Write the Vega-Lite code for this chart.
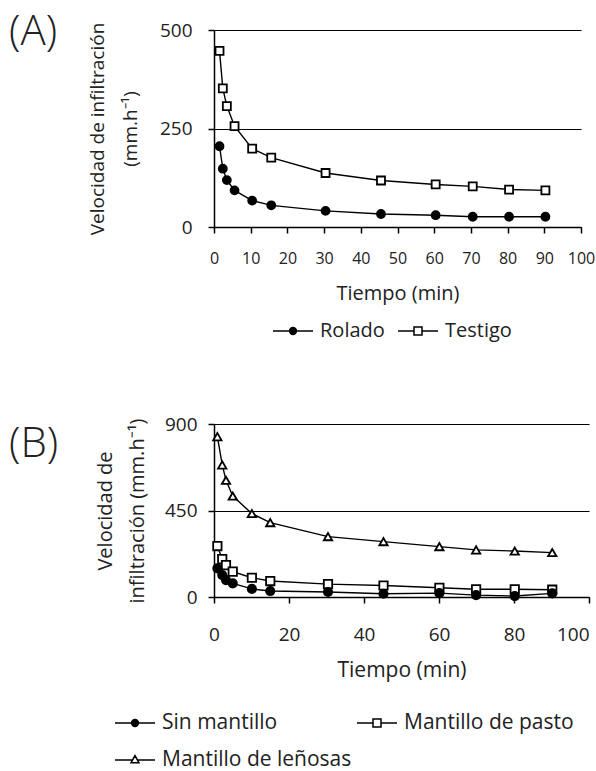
{
  "$schema": "https://vega.github.io/schema/vega-lite/v6.json",
  "padding": {"left": 9, "top": 11, "right": 0, "bottom": 0},
  "background": "white",
  "spacing": 74,
  "resolve": {"scale": {"shape": "independent", "fill": "independent", "stroke": "independent", "x": "independent", "y": "independent"},
              "legend": {"shape": "independent", "fill": "independent", "stroke": "independent"}},
  "config": {
    "font": "Open Sans",
    "view": {"stroke": null},
    "axis": {
      "domainColor": "black", "domainWidth": 1.5,
      "tickColor": "black", "tickWidth": 1.5, "tickSize": 6, "labelFlush": false,
      "gridColor": "black", "gridWidth": 1.2,
      "labelColor": "#222", "titleColor": "#222",
      "titleFontWeight": "normal", "labelFont": "Open Sans", "titleFont": "Open Sans"
    },
    "legend": {"labelColor": "#222", "labelFont": "Open Sans", "labelLimit": 400},
    "title": {"color": "#222", "font": "Open Sans"}
  },
  "vconcat": [
    {
      "width": 367,
      "height": 197,
      "title": {"text": "(A)", "anchor": "start", "frame": "group", "fontSize": 42, "fontWeight": 300, "baseline": "alphabetic", "dx": -205, "dy": 66, "offset": 0},
      "data": {"values": [
        {"t": 1.5, "v": 447, "serie": "Testigo"},
        {"t": 2.4, "v": 352, "serie": "Testigo"},
        {"t": 3.5, "v": 307, "serie": "Testigo"},
        {"t": 5.6, "v": 256, "serie": "Testigo"},
        {"t": 10.4, "v": 199, "serie": "Testigo"},
        {"t": 15.6, "v": 176, "serie": "Testigo"},
        {"t": 30.4, "v": 137, "serie": "Testigo"},
        {"t": 45.5, "v": 118, "serie": "Testigo"},
        {"t": 60.4, "v": 108, "serie": "Testigo"},
        {"t": 70.5, "v": 103, "serie": "Testigo"},
        {"t": 80.4, "v": 95, "serie": "Testigo"},
        {"t": 90.3, "v": 93, "serie": "Testigo"},
        {"t": 1.5, "v": 205, "serie": "Rolado"},
        {"t": 2.4, "v": 148, "serie": "Rolado"},
        {"t": 3.5, "v": 119, "serie": "Rolado"},
        {"t": 5.6, "v": 93, "serie": "Rolado"},
        {"t": 10.4, "v": 67, "serie": "Rolado"},
        {"t": 15.6, "v": 55, "serie": "Rolado"},
        {"t": 30.4, "v": 41, "serie": "Rolado"},
        {"t": 45.5, "v": 33, "serie": "Rolado"},
        {"t": 60.4, "v": 30, "serie": "Rolado"},
        {"t": 70.5, "v": 26, "serie": "Rolado"},
        {"t": 80.4, "v": 26, "serie": "Rolado"},
        {"t": 90.3, "v": 26, "serie": "Rolado"}
      ]},
      "encoding": {
        "x": {"field": "t", "type": "quantitative", "scale": {"domain": [0, 100], "nice": false},
          "axis": {"title": "Tiempo (min)", "values": [0,10,20,30,40,50,60,70,80,90,100], "grid": false,
            "labelFontSize": 16, "labelPadding": 17, "titleFontSize": 20, "titlePadding": 17}},
        "y": {"field": "v", "type": "quantitative", "scale": {"domain": [0, 500], "nice": false},
          "axis": {"title": ["Velocidad de infiltración", "(mm.h⁻¹)"], "values": [0, 250, 500], "grid": true,
            "labelFontSize": 19, "labelPadding": 16, "titleFontSize": 19, "titleLineHeight": 33, "titlePadding": 19}}
      },
      "resolve": {"scale": {"shape": "independent", "fill": "independent", "stroke": "independent"}},
      "layer": [
        {"mark": {"type": "line", "color": "black", "strokeWidth": 1.4},
         "encoding": {"detail": {"field": "serie"}}},
        {"mark": {"type": "point", "filled": true, "stroke": "black", "strokeWidth": 1.8, "opacity": 1, "size": 64},
         "encoding": {
           "shape": {"field": "serie", "type": "nominal",
             "scale": {"domain": ["Rolado", "Testigo"], "range": ["circle", "square"]}, "legend": null},
           "fill": {"field": "serie", "type": "nominal",
             "scale": {"domain": ["Rolado", "Testigo"], "range": ["black", "white"]}, "legend": null}
         }},
        {"transform": [{"filter": "false"}],
         "mark": {"type": "point", "filled": true, "strokeWidth": 1.5, "opacity": 1, "size": 1600},
         "encoding": {
           "shape": {"field": "serie", "type": "nominal",
             "scale": {"domain": ["Rolado", "Testigo"], "range": [
               "M-1,0H1M-0.17,0A0.17,0.17,0,1,0,0.17,0A0.17,0.17,0,1,0,-0.17,0Z",
               "M-1,0H-0.2M0.2,0H1M-0.2,-0.2H0.2V0.2H-0.2Z"]},
             "legend": {"title": null, "orient": "none", "legendX": 58, "legendY": 280, "direction": "horizontal",
               "symbolSize": 1600, "symbolStrokeWidth": 1.5, "labelFontSize": 20, "labelOffset": 6, "columnPadding": 10}},
           "fill": {"field": "serie", "type": "nominal",
             "scale": {"domain": ["Rolado", "Testigo"], "range": ["black", "white"]},
             "legend": {"title": null, "orient": "none", "legendX": 58, "legendY": 280, "direction": "horizontal",
               "symbolSize": 1600, "symbolStrokeWidth": 1.5, "labelFontSize": 20, "labelOffset": 6, "columnPadding": 10}},
           "stroke": {"field": "serie", "type": "nominal",
             "scale": {"domain": ["Rolado", "Testigo"], "range": ["black", "black"]},
             "legend": {"title": null, "orient": "none", "legendX": 58, "legendY": 280, "direction": "horizontal",
               "symbolSize": 1600, "symbolStrokeWidth": 1.5, "labelFontSize": 20, "labelOffset": 6, "columnPadding": 10}}
         }}
      ]
    },
    {
      "width": 375,
      "height": 173,
      "title": {"text": "(B)", "anchor": "start", "frame": "group", "fontSize": 42, "fontWeight": 300, "baseline": "alphabetic", "dx": -205, "dy": 84, "offset": 0},
      "data": {"values": [
        {"t": 0.9, "v": 834, "serie": "Mantillo de leñosas"},
        {"t": 2.2, "v": 687, "serie": "Mantillo de leñosas"},
        {"t": 3.2, "v": 607, "serie": "Mantillo de leñosas"},
        {"t": 5.0, "v": 525, "serie": "Mantillo de leñosas"},
        {"t": 10.1, "v": 434, "serie": "Mantillo de leñosas"},
        {"t": 15.0, "v": 387, "serie": "Mantillo de leñosas"},
        {"t": 30.4, "v": 314, "serie": "Mantillo de leñosas"},
        {"t": 45.2, "v": 288, "serie": "Mantillo de leñosas"},
        {"t": 60.1, "v": 262, "serie": "Mantillo de leñosas"},
        {"t": 69.9, "v": 245, "serie": "Mantillo de leñosas"},
        {"t": 80.2, "v": 239, "serie": "Mantillo de leñosas"},
        {"t": 90.2, "v": 231, "serie": "Mantillo de leñosas"},
        {"t": 0.9, "v": 265, "serie": "Mantillo de pasto"},
        {"t": 2.2, "v": 197, "serie": "Mantillo de pasto"},
        {"t": 3.2, "v": 166, "serie": "Mantillo de pasto"},
        {"t": 5.0, "v": 132, "serie": "Mantillo de pasto"},
        {"t": 10.1, "v": 100, "serie": "Mantillo de pasto"},
        {"t": 15.0, "v": 83, "serie": "Mantillo de pasto"},
        {"t": 30.4, "v": 67, "serie": "Mantillo de pasto"},
        {"t": 45.2, "v": 60, "serie": "Mantillo de pasto"},
        {"t": 60.1, "v": 48, "serie": "Mantillo de pasto"},
        {"t": 69.9, "v": 40, "serie": "Mantillo de pasto"},
        {"t": 80.2, "v": 40, "serie": "Mantillo de pasto"},
        {"t": 90.2, "v": 38, "serie": "Mantillo de pasto"},
        {"t": 0.9, "v": 149, "serie": "Sin mantillo"},
        {"t": 2.2, "v": 114, "serie": "Sin mantillo"},
        {"t": 3.2, "v": 88, "serie": "Sin mantillo"},
        {"t": 5.0, "v": 71, "serie": "Sin mantillo"},
        {"t": 10.1, "v": 42, "serie": "Sin mantillo"},
        {"t": 15.0, "v": 31, "serie": "Sin mantillo"},
        {"t": 30.4, "v": 26, "serie": "Sin mantillo"},
        {"t": 45.2, "v": 17, "serie": "Sin mantillo"},
        {"t": 60.1, "v": 20, "serie": "Sin mantillo"},
        {"t": 69.9, "v": 10, "serie": "Sin mantillo"},
        {"t": 80.2, "v": 5, "serie": "Sin mantillo"},
        {"t": 90.2, "v": 19, "serie": "Sin mantillo"}
      ]},
      "encoding": {
        "x": {"field": "t", "type": "quantitative", "scale": {"domain": [0, 100], "nice": false},
          "axis": {"title": "Tiempo (min)", "values": [0,20,40,60,80,100], "grid": false,
            "labelFontSize": 19, "labelPadding": 22, "titleFontSize": 21, "titlePadding": 15,
            "labelAlign": {"condition": {"test": "datum.value == 100", "value": "right"}, "value": "center"}}},
        "y": {"field": "v", "type": "quantitative", "scale": {"domain": [0, 900], "nice": false},
          "axis": {"title": ["Velocidad de", "infiltración (mm.h⁻¹)"], "values": [0, 450, 900], "grid": true,
            "labelFontSize": 19, "labelPadding": 11, "titleFontSize": 20, "titleLineHeight": 32, "titlePadding": 17}}
      },
      "resolve": {"scale": {"shape": "independent", "fill": "independent", "stroke": "independent"}},
      "layer": [
        {"mark": {"type": "line", "color": "black", "strokeWidth": 1.4},
         "encoding": {"detail": {"field": "serie"}}},
        {"mark": {"type": "point", "filled": true, "stroke": "black", "strokeWidth": 1.8, "opacity": 1, "size": 70},
         "encoding": {
           "shape": {"field": "serie", "type": "nominal",
             "scale": {"domain": ["Sin mantillo", "Mantillo de pasto", "Mantillo de leñosas"], "range": ["circle", "square", "triangle-up"]}, "legend": null},
           "fill": {"field": "serie", "type": "nominal",
             "scale": {"domain": ["Sin mantillo", "Mantillo de pasto", "Mantillo de leñosas"], "range": ["black", "white", "white"]}, "legend": null}
         }},
        {"transform": [{"filter": "false"}],
         "mark": {"type": "point", "filled": true, "strokeWidth": 1.5, "opacity": 1, "size": 1600},
         "encoding": {
           "shape": {"field": "serie", "type": "nominal",
             "scale": {"domain": ["Sin mantillo", "Mantillo de pasto", "Mantillo de leñosas"], "range": [
               "M-1,0H1M-0.17,0A0.17,0.17,0,1,0,0.17,0A0.17,0.17,0,1,0,-0.17,0Z",
               "M-1,0H-0.2M0.2,0H1M-0.2,-0.2H0.2V0.2H-0.2Z",
               "M-1,0H-0.13M0.13,0H1M0,-0.22L0.2,0.14H-0.2Z"]},
             "legend": {"title": null, "orient": "none", "legendX": -100, "legendY": 278, "direction": "horizontal", "columns": 2,
               "symbolSize": 1600, "symbolStrokeWidth": 1.5, "labelFontSize": 21, "labelOffset": 6, "columnPadding": 2, "rowPadding": 6}},
           "fill": {"field": "serie", "type": "nominal",
             "scale": {"domain": ["Sin mantillo", "Mantillo de pasto", "Mantillo de leñosas"], "range": ["black", "white", "white"]},
             "legend": {"title": null, "orient": "none", "legendX": -100, "legendY": 278, "direction": "horizontal", "columns": 2,
               "symbolSize": 1600, "symbolStrokeWidth": 1.5, "labelFontSize": 21, "labelOffset": 6, "columnPadding": 2, "rowPadding": 6}},
           "stroke": {"field": "serie", "type": "nominal",
             "scale": {"domain": ["Sin mantillo", "Mantillo de pasto", "Mantillo de leñosas"], "range": ["black", "black", "black"]},
             "legend": {"title": null, "orient": "none", "legendX": -100, "legendY": 278, "direction": "horizontal", "columns": 2,
               "symbolSize": 1600, "symbolStrokeWidth": 1.5, "labelFontSize": 21, "labelOffset": 6, "columnPadding": 2, "rowPadding": 6}}
         }}
      ]
    }
  ]
}
